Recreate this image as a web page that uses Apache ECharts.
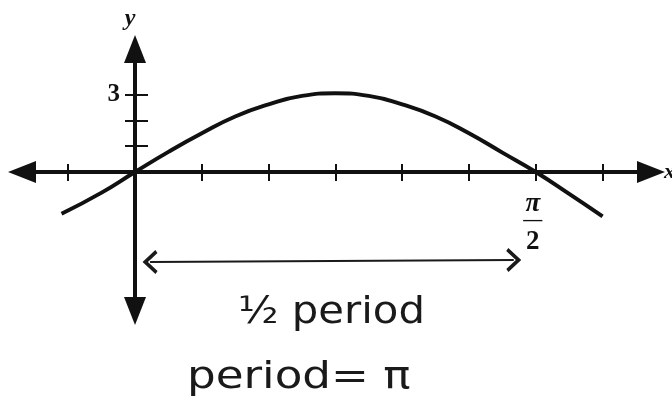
<!DOCTYPE html>
<html>
<head>
<meta charset="utf-8">
<script src="https://cdn.jsdelivr.net/npm/echarts@6/dist/echarts.min.js"></script>
<style>
  html, body { margin: 0; padding: 0; background: #fff; }
  #chart { width: 672px; height: 408px; }
</style>
</head>
<body>
<div id="chart"></div>
<script>
// x positions in steps of pi/12, y values of the curve at those steps
const xSteps = [-1.1, -0.5, 0, 0.5, 1, 1.5, 2, 2.5, 3, 3.5, 4, 4.5, 5, 5.5, 6, 6.5, 7];
const yValues = [-1.62, -0.8, 0, 0.78, 1.5, 2.15, 2.62, 2.95, 3.05, 2.95, 2.62, 2.15, 1.5, 0.75, 0, -0.85, -1.72];

// axis ticks and labels
const xTickSteps = [-1, 1, 2, 3, 4, 5, 6, 7];
const xLabelSteps = [6];          // pi/2
const yTickValues = [1, 2, 3];
const yLabelValues = [3];

// axis extents
const xRange = [-1.692, 7.725];
const yRange = [-5.388, 4.767];

// the "half period" arrow, from near the origin to near pi/2
const halfPeriodStart = [0.225, -3.49];
const halfPeriodEnd = [5.67, -3.41];

const INK = '#111';
const SERIF = '"Liberation Serif", "DejaVu Serif", serif';
const HAND = '"DejaVu Sans", "Noto Sans", sans-serif';

const chevron = 'path://M0,12 L10,0 L20,12 L17.5,14 L10,5 L2.5,14 Z';

// plot area (pixels) and where the zero lines fall inside it
const G = { left: 22, right: 21, top: 49, bottom: 97 };
const W = 672 - G.left - G.right;
const H = 408 - G.top - G.bottom;
const zeroX = W * (0 - xRange[0]) / (xRange[1] - xRange[0]);   // from grid left
const zeroY = H * (yRange[1] - 0) / (yRange[1] - yRange[0]);   // from grid top

const chart = echarts.init(document.getElementById('chart'), null, { renderer: 'canvas' });

const axisArrow = {
  onZero: false,
  symbol: ['triangle', 'triangle'],
  symbolSize: [22, 28],
  lineStyle: { color: INK, width: 4 }
};

chart.setOption({
  backgroundColor: '#fff',
  animation: false,
  grid: Object.assign({ containLabel: false, outerBoundsMode: 'none' }, G),
  xAxis: [
    {
      type: 'value', position: 'bottom', min: xRange[0], max: xRange[1],
      offset: -(H - zeroY),
      axisLine: axisArrow,
      axisTick: { show: true, customValues: xTickSteps, length: 9, lineStyle: { color: INK, width: 2 } },
      axisLabel: {
        show: true, customValues: xLabelSteps, margin: 22, color: INK,
        formatter: function () { return '{p|π}\n{b|—}\n{t|2}'; },
        rich: {
          p: { fontFamily: SERIF, fontStyle: 'italic', fontWeight: 'bold', fontSize: 27, lineHeight: 20, color: INK, padding: [0, 6, 0, 0] },
          b: { fontFamily: SERIF, fontWeight: 'bold', fontSize: 19, lineHeight: 13, color: INK, padding: [0, 6, 0, 0] },
          t: { fontFamily: SERIF, fontWeight: 'bold', fontSize: 27, lineHeight: 30, color: INK, padding: [0, 6, 0, 0] }
        }
      },
      splitLine: { show: false },
      name: 'x', nameLocation: 'end', nameGap: 13,
      nameTextStyle: { fontFamily: SERIF, fontStyle: 'italic', fontWeight: 'bold', fontSize: 22, color: INK, verticalAlign: 'middle' }
    },
    {
      type: 'value', position: 'top', min: xRange[0], max: xRange[1],
      offset: -zeroY,
      axisLine: { show: false, onZero: false },
      axisTick: { show: true, customValues: xTickSteps, length: 8, lineStyle: { color: INK, width: 2 } },
      axisLabel: { show: false },
      splitLine: { show: false }
    }
  ],
  yAxis: [
    {
      type: 'value', position: 'left', min: yRange[0], max: yRange[1],
      offset: -zeroX,
      axisLine: axisArrow,
      axisTick: { show: true, customValues: yTickValues, length: 10, lineStyle: { color: INK, width: 2 } },
      axisLabel: {
        show: true, customValues: yLabelValues, margin: 15, color: INK,
        fontFamily: SERIF, fontWeight: 'bold', fontSize: 25, padding: [0, 0, 4, 0]
      },
      splitLine: { show: false },
      name: 'y', nameLocation: 'end', nameGap: 30,
      nameTextStyle: { fontFamily: SERIF, fontStyle: 'italic', fontWeight: 'bold', fontSize: 24, color: INK, verticalAlign: 'middle', padding: [0, 10, 0, 0] }
    },
    {
      type: 'value', position: 'right', min: yRange[0], max: yRange[1],
      offset: -(W - zeroX),
      axisLine: { show: false, onZero: false },
      axisTick: { show: true, customValues: yTickValues, length: 13, lineStyle: { color: INK, width: 2 } },
      axisLabel: { show: false },
      splitLine: { show: false }
    }
  ],
  series: [
    {
      type: 'line',
      xAxisIndex: 0, yAxisIndex: 0,
      smooth: true,
      showSymbol: false,
      lineStyle: { color: INK, width: 4 },
      data: xSteps.map((x, i) => [x, yValues[i]]),
      markLine: {
        silent: true,
        symbol: [chevron, chevron],
        symbolSize: [24, 15],
        label: { show: false },
        lineStyle: { color: '#1a1a1a', width: 2, type: 'solid' },
        data: [[{ coord: halfPeriodStart }, { coord: halfPeriodEnd }]]
      }
    }
  ],
  graphic: [
    {
      type: 'text', x: 238, y: 313, scaleX: 1.1,
      style: { text: '½ period', font: 'normal 38px ' + HAND, fill: '#1a1a1a', verticalAlign: 'middle' }
    },
    {
      type: 'text', x: 187, y: 378, scaleX: 1.19,
      style: { text: 'period= π', font: 'normal 38px ' + HAND, fill: '#1a1a1a', verticalAlign: 'middle' }
    }
  ]
});
</script>
</body>
</html>
